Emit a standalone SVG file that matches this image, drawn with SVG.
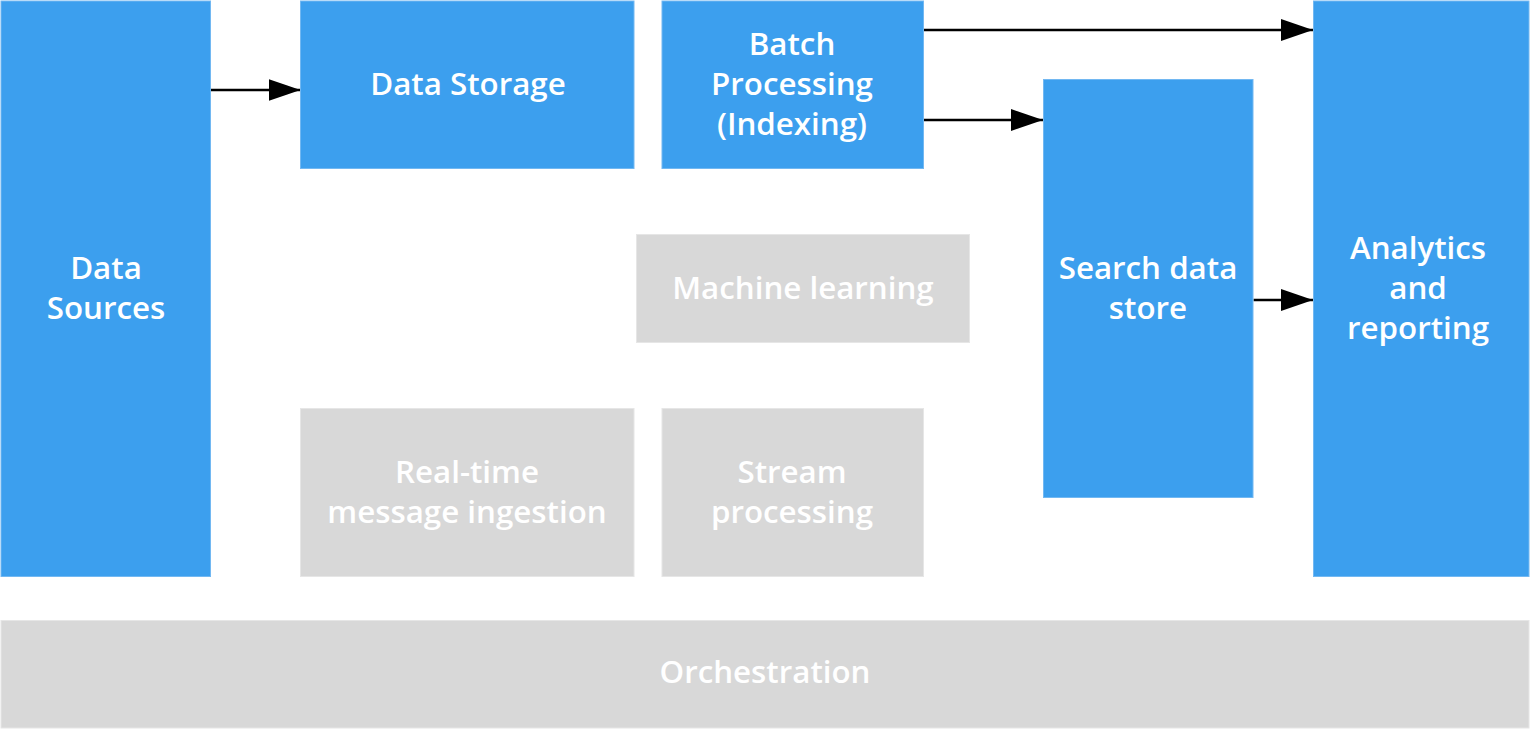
<svg xmlns="http://www.w3.org/2000/svg" width="1530" height="729" viewBox="0 0 1530 729">
<style>
.b{fill:#3c9fee;stroke:#72b8f2;stroke-width:1}
.g{fill:#d8d8d8;stroke:#e6e6e6;stroke-width:1}
text{font-family:"Open Sans","Noto Sans","Liberation Sans",sans-serif;font-size:31.3px;font-weight:600;fill:#ffffff;text-anchor:middle}
.c{stroke:#000;stroke-width:2.5;fill:none;marker-end:url(#ah)}
</style>
<defs>
<marker id="ah" markerUnits="userSpaceOnUse" markerWidth="32" markerHeight="22" refX="32" refY="11" orient="auto">
<path d="M0,0 L32,11 L0,22 Z" fill="#000"/>
</marker>
</defs>
<rect width="1530" height="729" fill="#fff"/>
<g id="connectors">
<path class="c" d="M210.5,90 H300.5"/>
<path class="c" d="M923.5,30 H1313"/>
<path class="c" d="M923.5,120 H1043"/>
<path class="c" d="M1253.5,300 H1313"/>
</g>
<g id="data-sources"><rect class="b" x="1" y="1" width="209.5" height="575.5"/><text x="106" y="279">Data</text><text x="106" y="319">Sources</text></g>
<g id="data-storage"><rect class="b" x="300.5" y="1" width="333.5" height="167.5"/><text x="468" y="95">Data Storage</text></g>
<g id="batch-processing"><rect class="b" x="662" y="1" width="261.5" height="167.5"/><text x="792" y="55">Batch</text><text x="792" y="95">Processing</text><text x="792" y="135">(Indexing)</text></g>
<g id="machine-learning"><rect class="g" x="636.5" y="234.5" width="333" height="108"/><text x="803" y="299">Machine learning</text></g>
<g id="real-time"><rect class="g" x="300.5" y="408.5" width="333.5" height="168"/><text x="467" y="483">Real-time</text><text x="467" y="523">message ingestion</text></g>
<g id="stream-processing"><rect class="g" x="662" y="408.5" width="261.5" height="168"/><text x="792" y="483">Stream</text><text x="792" y="523">processing</text></g>
<g id="search-data-store"><rect class="b" x="1043.5" y="79.5" width="209.5" height="418"/><text x="1148" y="279">Search data</text><text x="1148" y="319">store</text></g>
<g id="analytics"><rect class="b" x="1313.5" y="1" width="215.5" height="575.5"/><text x="1418" y="259">Analytics</text><text x="1418" y="299">and</text><text x="1418" y="339">reporting</text></g>
<g id="orchestration"><rect class="g" x="1" y="620.5" width="1528" height="107.5"/><text x="765" y="683">Orchestration</text></g>
</svg>
